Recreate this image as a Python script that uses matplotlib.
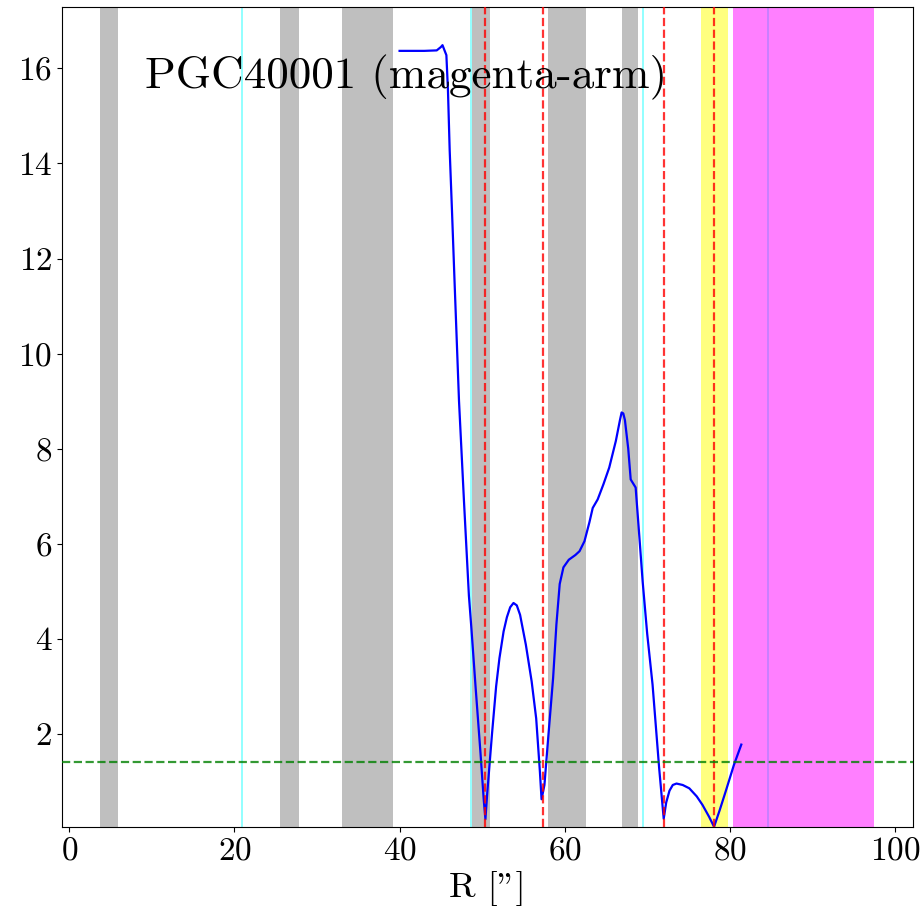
import matplotlib
matplotlib.use("Agg")
import matplotlib.pyplot as plt
import numpy as np

plt.rcParams['font.family'] = 'serif'
plt.rcParams['font.serif'] = ['cmr10']
plt.rcParams['mathtext.fontset'] = 'cm'
plt.rcParams['axes.formatter.use_mathtext'] = True

# Profile curve (R in arcsec, value)
r_vals = [40.0, 41.5, 43.0, 44.5, 45.0, 45.2, 45.67, 45.86, 46.07, 46.35, 46.67, 47.2, 47.8,
          48.4, 48.7, 49.2, 49.8, 50.2, 50.4, 50.6, 51.2, 51.7, 52.1, 52.6, 53.0, 53.4, 53.8,
          54.2, 54.6, 55.3, 56.0, 56.55, 57.0, 57.2, 57.55, 58.0, 58.6, 59.0, 59.4, 59.85,
          60.5, 61.3, 61.8, 62.4, 63.0, 63.4, 64.0, 64.7, 65.4, 66.2, 66.7, 66.9, 67.1, 67.3,
          67.7, 68.0, 68.6, 69.0, 69.45, 70.0, 70.65, 71.45, 72.0, 72.3, 72.7, 73.1, 73.55,
          74.3, 75.1, 76.0, 76.7, 77.5, 78.1, 78.8, 79.5, 80.5, 81.4]
y_vals = [16.37, 16.37, 16.37, 16.38, 16.45, 16.49, 16.28, 15.55, 14.28, 13.0, 11.47, 9.0, 6.9,
          4.9, 4.22, 3.0, 1.6, 0.6, 0.2, 0.7, 2.0, 3.0, 3.59, 4.15, 4.45, 4.66, 4.75,
          4.7, 4.5, 3.87, 3.1, 2.32, 1.2, 0.62, 0.92, 1.9, 3.17, 4.3, 5.15, 5.5,
          5.66, 5.76, 5.84, 6.05, 6.45, 6.75, 6.93, 7.25, 7.6, 8.16, 8.6, 8.76, 8.74, 8.6,
          8.0, 7.35, 7.18, 6.26, 5.2, 4.1, 3.03, 1.27, 0.21, 0.55, 0.8, 0.92, 0.95,
          0.92, 0.85, 0.68, 0.5, 0.25, 0.04, 0.4, 0.78, 1.34, 1.77]

gray_bands = [(3.75, 5.84), (25.5, 27.8), (33.0, 39.2), (48.8, 51.0), (58.0, 62.6), (66.9, 68.9)]
cyan_lines = [20.9, 48.7, 69.45, 84.65]
red_lines = [50.4, 57.35, 72.0, 78.1]
yellow_band = (76.5, 79.75)
magenta_band = (80.45, 97.5)
threshold = 1.414
title_text = "PGC40001 (magenta-arm)"

fig = plt.figure(figsize=(9.21, 9.15), dpi=100)
ax = fig.add_axes([0.0673, 0.0964, 0.9240, 0.8963])

for x in cyan_lines:
    ax.axvline(x, color='cyan', alpha=0.5, lw=1.2, zorder=1)
for a, b in gray_bands:
    ax.axvspan(a, b, color='gray', alpha=0.5, lw=0, zorder=2)
ax.axvspan(*yellow_band, color='yellow', alpha=0.5, lw=0, zorder=2)
ax.axvspan(*magenta_band, color='magenta', alpha=0.5, lw=0, zorder=2)

ax.plot(r_vals, y_vals, color='blue', lw=1.6, zorder=3)
for x in red_lines:
    ax.axvline(x, color='red', ls='--', lw=1.6, alpha=0.8, zorder=4)
ax.axhline(threshold, color='green', ls='--', lw=1.6, alpha=0.8, zorder=4)

ax.set_xlim(-0.9, 102.2)
ax.set_ylim(0.04, 17.3)
ax.set_xticks([0, 20, 40, 60, 80, 100])
ax.set_yticks([2, 4, 6, 8, 10, 12, 14, 16])
ax.tick_params(labelsize=24)
ax.set_xlabel('R ["]', fontsize=26)

ax.text(0.0975, 0.90, title_text, transform=ax.transAxes, fontsize=32.5, va='baseline', ha='left', zorder=5)

fig.savefig('out.png', dpi=100)
